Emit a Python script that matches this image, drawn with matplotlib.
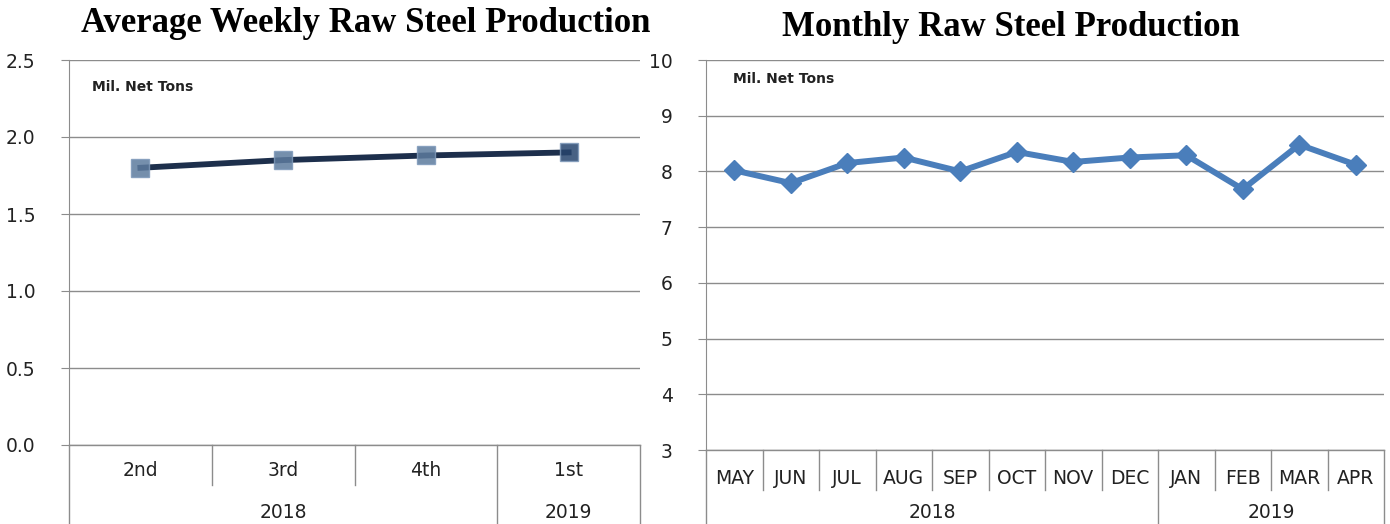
import matplotlib.pyplot as plt

# Left chart: average weekly production by quarter
quarters = ["2nd", "3rd", "4th", "1st"]
quarter_years = [("2018", 0, 2), ("2019", 3, 3)]
weekly = [1.80, 1.85, 1.88, 1.90]

# Right chart: monthly production
months = ["MAY", "JUN", "JUL", "AUG", "SEP", "OCT", "NOV", "DEC",
          "JAN", "FEB", "MAR", "APR"]
month_years = [("2018", 0, 7), ("2019", 8, 11)]
monthly = [8.02, 7.79, 8.15, 8.25, 8.00, 8.35, 8.17, 8.25, 8.29, 7.68, 8.48, 8.12]

W, H = 1390, 524
fig = plt.figure(figsize=(W / 100, H / 100), dpi=100)
fig.patch.set_facecolor("white")

GRID = "#8c8c8c"
TXT = "#222222"
LABEL_FONT = ["DejaVu Sans"]


def frame(ax, n, ylim, yticks, fmt, ylabel_size):
    ax.set_xlim(-0.5, n - 0.5)
    ax.set_ylim(*ylim)
    ax.set_yticks(yticks)
    ax.set_yticklabels([fmt.format(v) for v in yticks], fontsize=ylabel_size,
                       color=TXT, family=LABEL_FONT)
    ax.set_xticks([])
    ax.yaxis.grid(True, color=GRID, linewidth=1.0)
    ax.set_axisbelow(True)
    for s in ["top", "right", "bottom"]:
        ax.spines[s].set_visible(False)
    ax.spines["left"].set_color(GRID)
    ax.tick_params(axis="y", direction="out", length=6, color=GRID, pad=18)


def category_axis(ax, labels, groups, h_px, lab_off, grp_off, div_len, size):
    tr = ax.get_xaxis_transform()
    n = len(labels)
    y_lab = -lab_off / h_px
    y_grp = -grp_off / h_px
    y_div = -div_len / h_px
    y_bot = -200 / h_px
    ax.axhline(ax.get_ylim()[0], color=GRID, linewidth=1.0, clip_on=False)
    for i, lab in enumerate(labels):
        ax.text(i, y_lab, lab, transform=tr, ha="center", va="center",
                fontsize=size, color=TXT, family=LABEL_FONT)
    group_edges = {g[1] for g in groups}
    for i in range(1, n):
        y_end = y_bot if i in group_edges else y_div
        ax.plot([i - 0.5, i - 0.5], [0, y_end], transform=tr, color=GRID,
                linewidth=1.0, clip_on=False)
    for x in (-0.5, n - 0.5):
        ax.plot([x, x], [0, y_bot], transform=tr, color=GRID,
                linewidth=1.0, clip_on=False)
    for name, a, b in groups:
        ax.text((a + b) / 2, y_grp, name, transform=tr, ha="center",
                va="center", fontsize=size, color=TXT, family=LABEL_FONT)


# ---- left chart
axl = fig.add_axes([69 / W, 1 - 445 / H, (640 - 69) / W, (445 - 60) / H])
frame(axl, len(quarters), (0, 2.5), [0, 0.5, 1.0, 1.5, 2.0, 2.5], "{:.1f}", 13.5)
category_axis(axl, quarters, quarter_years, 385, 26, 67, 40, 13.5)
xq = list(range(len(quarters)))
axl.plot(xq, weekly, color="#1d2f4c", linewidth=4.2, zorder=3)
mk_colors = ["#5d7b9e", "#5d7b9e", "#5d7b9e", "#27456e"]
for x, v, c in zip(xq, weekly, mk_colors):
    axl.plot(x, v, marker="s", markersize=13.5, color=c, alpha=0.85,
             markeredgecolor="#7f9aba", markeredgewidth=1.0, zorder=4)
axl.text(92 / W, 1 - 87 / H, "Mil. Net Tons", transform=fig.transFigure,
         fontsize=10, fontweight="bold", color=TXT, va="center", family=LABEL_FONT)

# ---- right chart
axr = fig.add_axes([706 / W, 1 - 450 / H, (1384 - 706) / W, (450 - 60) / H])
frame(axr, len(months), (3, 10), list(range(3, 11)), "{:d}", 13.5)
category_axis(axr, months, month_years, 390, 28, 63, 40, 13.5)
xm = list(range(len(months)))
axr.plot(xm, monthly, color="#4a7ebb", linewidth=4.3, marker="D",
         markersize=10.5, zorder=3)
axr.text(733 / W, 1 - 79 / H, "Mil. Net Tons", transform=fig.transFigure,
         fontsize=10, fontweight="bold", color=TXT, va="center", family=LABEL_FONT)

# ---- titles
fig.text(366 / W, 1 - 23 / H, "Average Weekly Raw Steel Production",
         ha="center", va="center", fontsize=25, fontweight="bold",
         family="Liberation Serif", color="black")
fig.text(1011 / W, 1 - 28 / H, "Monthly Raw Steel Production",
         ha="center", va="center", fontsize=25, fontweight="bold",
         family="Liberation Serif", color="black")

fig.savefig("out.png", dpi=100)
